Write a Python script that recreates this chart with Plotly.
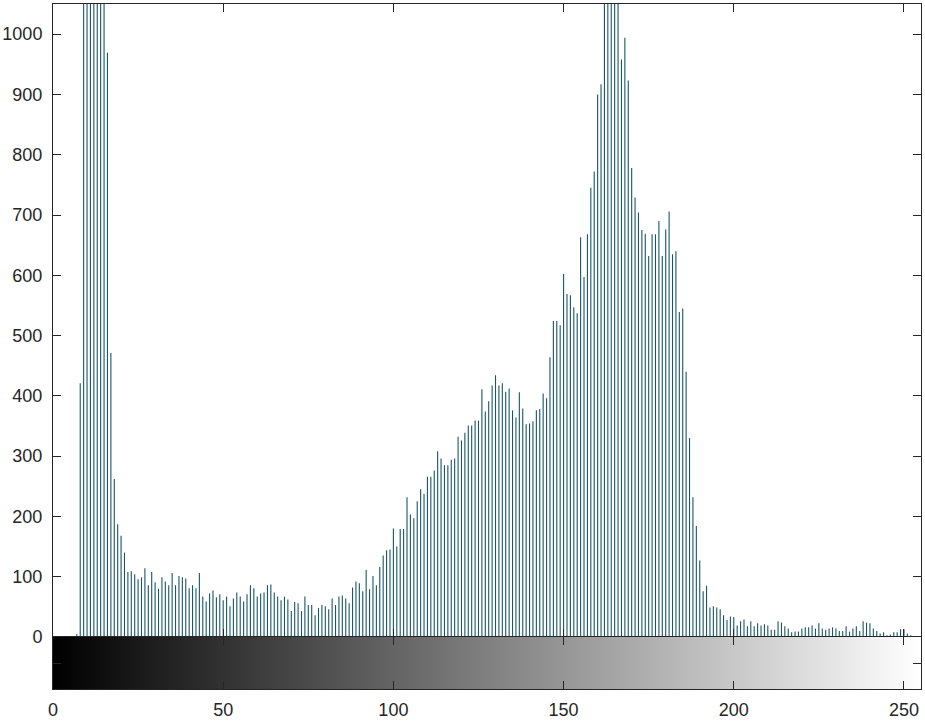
import plotly.graph_objects as go

# grey levels 0..255 and pixel counts
levels = list(range(256))
counts = [
    0, 0, 0, 0, 0, 0, 0, 5, 421, 1800,
    3600, 5200, 4700, 3800, 2600, 1500, 969, 471, 262, 187,
    168, 140, 108, 109, 104, 96, 99, 114, 86, 108,
    91, 80, 99, 92, 86, 106, 86, 101, 99, 97,
    81, 86, 81, 106, 67, 59, 72, 77, 66, 71,
    61, 67, 51, 64, 74, 67, 59, 71, 86, 81,
    67, 72, 74, 86, 87, 74, 67, 61, 67, 62,
    43, 58, 56, 43, 67, 53, 53, 36, 48, 53,
    51, 46, 64, 53, 67, 69, 64, 56, 82, 92,
    89, 76, 111, 79, 101, 86, 116, 135, 144, 145,
    180, 150, 179, 179, 232, 203, 197, 225, 245, 237,
    266, 266, 276, 308, 296, 285, 285, 294, 296, 332,
    326, 339, 351, 351, 359, 359, 411, 374, 391, 417,
    434, 417, 421, 407, 412, 376, 364, 406, 379, 353,
    354, 358, 376, 378, 404, 396, 464, 524, 524, 517,
    602, 569, 567, 547, 537, 663, 597, 668, 745, 772,
    900, 917, 1250, 1700, 2100, 1900, 1300, 958, 994, 923,
    778, 729, 704, 675, 669, 632, 668, 668, 690, 632,
    676, 706, 635, 640, 539, 545, 440, 330, 232, 184,
    127, 76, 85, 49, 51, 49, 46, 36, 28, 34,
    33, 19, 26, 29, 18, 26, 18, 23, 19, 21,
    19, 12, 12, 26, 24, 18, 14, 8, 9, 9,
    14, 16, 16, 19, 14, 23, 14, 12, 14, 16,
    14, 10, 10, 18, 9, 14, 18, 10, 26, 24,
    23, 14, 10, 6, 8, 3, 4, 8, 8, 13,
    13, 6, 3, 0, 0, 0,
]
x_ticks = [0, 50, 100, 150, 200, 250]
y_ticks = list(range(0, 1001, 100))

# stems: one vertical segment per grey level
stem_x, stem_y = [], []
for k, c in zip(levels, counts):
    stem_x += [k, k, None]
    stem_y += [0, c, None]

ink = "#262626"
font = dict(family="Liberation Sans, Arial, sans-serif", size=18, color=ink)
cb_frac = 52 / 685

fig = go.Figure()
fig.add_trace(go.Scatter(
    x=stem_x, y=stem_y, mode="lines",
    line=dict(color="#185669", width=1.1),
    hoverinfo="skip", showlegend=False,
))
fig.add_trace(go.Heatmap(
    x=levels, y=[0.5], z=[levels],
    colorscale=[[0, "black"], [1, "white"]],
    showscale=False, xaxis="x2", yaxis="y2", hoverinfo="skip",
))

axis_common = dict(
    showline=True, linecolor=ink, linewidth=1, mirror="ticks",
    ticks="inside", ticklen=8, tickcolor=ink, showgrid=False,
    zeroline=False, tickfont=font, automargin=False,
)

fig.update_layout(
    width=925, height=722,
    margin=dict(l=53, r=4, t=4, b=33),
    paper_bgcolor="white", plot_bgcolor="white",
    xaxis=dict(axis_common, range=[0, 255], tickvals=x_ticks,
               showticklabels=False, anchor="y", domain=[0, 1]),
    yaxis=dict(axis_common, range=[0, 1050], tickvals=y_ticks,
               domain=[cb_frac, 1], anchor="x", ticklabelstandoff=6),
    xaxis2=dict(axis_common, range=[0, 255], tickvals=x_ticks,
                anchor="y2", domain=[0, 1], ticklabelstandoff=4),
    yaxis2=dict(axis_common, range=[0, 1], tickvals=[0.5],
                showticklabels=False, domain=[0, cb_frac], anchor="x2"),
)

# drop the page's default body margin so the figure sits at the window corner
fig.write_html("out.html", config={"displayModeBar": False},
               post_script="document.body.style.margin='0';")
